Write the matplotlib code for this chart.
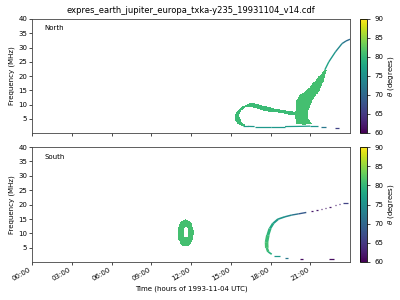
import numpy as np
import matplotlib
matplotlib.use('Agg')
import matplotlib.pyplot as plt
import matplotlib.dates as mdates
from matplotlib.path import Path
from matplotlib.collections import LineCollection
from matplotlib.colors import Normalize
import datetime as dt

# ---- data: hours of 1993-11-04, frequency in MHz, theta in degrees ----
# North: filled regions (polygon outlines, hour / MHz) and their theta
north_loop_h = [15.9, 15.55, 15.35, 15.3, 15.45, 15.75, 16.1, 16.5, 17.0, 17.5, 18.2, 19.0, 19.6, 19.95,
                19.95, 19.5, 19.0, 18.2, 17.5, 17.0, 16.5, 16.1, 15.8, 15.65, 15.7, 15.85, 16.1]
north_loop_f = [2.4, 3.2, 4.5, 6.0, 7.5, 9.0, 10.0, 10.6, 10.4, 9.6, 8.7, 8.2, 7.8, 7.6,
                6.2, 6.4, 6.9, 7.4, 8.0, 8.6, 9.1, 9.0, 8.0, 6.5, 5.0, 3.8, 2.8]
north_loop_theta = 80.5

north_fan_h = [19.9, 19.85, 19.9, 19.97, 20.2, 20.7, 21.1, 21.6, 22.0, 22.1,
               22.25, 22.1, 21.7, 21.15, 20.85, 20.85, 21.0, 21.25, 20.5, 19.5]
north_fan_f = [3.0, 6.5, 9.5, 11.5, 13.5, 15.0, 17.0, 19.7, 21.8, 22.3,
               22.0, 19.7, 15.0, 11.5, 8.0, 5.0, 4.0, 3.1, 2.9, 3.2]
north_fan_theta = 81.0

# North: thin tracks (hour, MHz, theta at each point)
north_top_h = [22.1, 22.4, 22.9, 23.4, 23.7, 24.0]
north_top_f = [22.2, 25.0, 28.5, 31.4, 32.3, 32.9]
north_top_theta = [78, 77, 75, 73, 71, 70]

north_base_h = [15.9, 16.3, 16.8, 18.0, 19.1, 20.0, 21.0, 21.6]
north_base_f = [2.4, 2.4, 2.35, 2.35, 2.35, 2.4, 2.5, 2.5]
north_base_theta = [77, 76, 76, 76, 76, 77, 76, 75]

north_dash_h0 = [21.8, 22.87]
north_dash_h1 = [22.2, 23.2]
north_dash_f = [2.05, 1.75]
north_dash_theta = [72, 66]

# South: oval ring
south_oval_h = [11.6, 11.9, 12.1, 12.2, 12.15, 11.95, 11.6, 11.25, 11.05, 11.0, 11.1, 11.3]
south_oval_f = [15.1, 14.5, 13.0, 10.5, 8.0, 6.2, 5.4, 6.2, 8.0, 10.5, 13.0, 14.5]
south_hole_h = [11.62, 11.78, 11.8, 11.75, 11.62, 11.48, 11.43, 11.46]
south_hole_f = [12.5, 11.5, 10.2, 9.0, 8.5, 9.0, 10.2, 11.5]
south_oval_theta = 81.0

# South: C-shaped track
south_arc_h = [18.09, 17.83, 17.72, 17.7, 17.8, 17.96, 18.2, 18.58, 19.09, 19.6, 20.1, 20.7]
south_arc_f = [2.8, 3.6, 5.0, 7.0, 9.4, 11.7, 13.5, 15.0, 15.8, 16.4, 16.8, 17.3]
south_arc_theta = [78, 80, 81, 81, 80, 79, 77, 76, 75, 73, 70, 67]
south_arc_width = [1.2, 1.8, 2.6, 2.6, 2.2, 1.8, 1.5, 1.2, 1.1, 1.0, 1.0, 1.0]

south_dash_h0 = [18.3, 19.1, 20.2, 22.4, 21.05, 21.45, 21.78, 22.08, 22.45, 22.84, 23.14, 23.49]
south_dash_h1 = [18.7, 19.35, 20.45, 22.8, 21.2, 21.58, 21.9, 22.2, 22.57, 22.96, 23.25, 23.83]
south_dash_f = [2.2, 1.65, 1.3, 1.05, 17.75, 18.1, 18.45, 18.7, 19.25, 19.85, 20.2, 20.45]
south_dash_theta = [76, 72, 61, 61, 62, 62, 62, 62, 62, 62, 63, 66]

day = dt.datetime(1993, 11, 4)
norm = Normalize(60, 90)
cmap = plt.get_cmap('viridis')

# time / frequency grid for the dynamic spectrum
t_edges = np.arange(0, 24.001, 0.05)
f_edges = np.arange(0.1, 40.1, 0.3)
tc = 0.5 * (t_edges[1:] + t_edges[:-1])
fc = 0.5 * (f_edges[1:] + f_edges[:-1])
TT, FF = np.meshgrid(tc, fc)
pts = np.column_stack([TT.ravel(), FF.ravel()])


def poly_mask(h, f):
    return Path(np.column_stack([h, f])).contains_points(pts).reshape(TT.shape)


def to_num(h):
    return mdates.date2num([day + dt.timedelta(hours=float(x)) for x in np.atleast_1d(h)])


def track(ax, h, f, theta, lw=1.0):
    xy = np.column_stack([to_num(h), f])
    segs = np.stack([xy[:-1], xy[1:]], axis=1)
    th = 0.5 * (np.array(theta[:-1]) + np.array(theta[1:]))
    lc = LineCollection(segs, cmap=cmap, norm=norm, linewidths=lw, capstyle='butt')
    lc.set_array(th)
    ax.add_collection(lc)


def dashes(ax, h0, h1, f, theta, lw=1.0):
    segs = [[(to_num(a)[0], y), (to_num(b)[0], y)] for a, b, y in zip(h0, h1, f)]
    lc = LineCollection(segs, cmap=cmap, norm=norm, linewidths=lw, capstyle='butt')
    lc.set_array(np.array(theta, dtype=float))
    ax.add_collection(lc)


# north spectrum
north = np.full(TT.shape, np.nan)
north[poly_mask(north_loop_h, north_loop_f)] = north_loop_theta
north[poly_mask(north_fan_h, north_fan_f)] = north_fan_theta

# south spectrum
south = np.full(TT.shape, np.nan)
ring = poly_mask(south_oval_h, south_oval_f) & ~poly_mask(south_hole_h, south_hole_f)
south[ring] = south_oval_theta

fig = plt.figure(figsize=(4, 3), dpi=100)
ax1 = fig.add_axes([0.08, 0.5567, 0.795, 0.38])
ax2 = fig.add_axes([0.08, 0.1267, 0.795, 0.383])
cax1 = fig.add_axes([0.9, 0.5567, 0.0175, 0.38])
cax2 = fig.add_axes([0.9, 0.1267, 0.0175, 0.383])

xe = to_num(t_edges)
for ax, z, cax, name in [(ax1, north, cax1, 'North'), (ax2, south, cax2, 'South')]:
    m = ax.pcolormesh(xe, f_edges, np.ma.masked_invalid(z), cmap=cmap, norm=norm, shading='flat')
    cb = fig.colorbar(m, cax=cax)
    cb.set_ticks([60, 65, 70, 75, 80, 85, 90])
    cb.ax.tick_params(labelsize=5, length=2, width=0.5)
    cb.set_label(r'$\theta$ (degrees)', fontsize=5, labelpad=2)
    cb.outline.set_linewidth(0.6)
    ax.set_ylim(0.1, 40)
    ax.set_xlim(to_num(0)[0], to_num(23.999)[0])
    ax.set_yticks([5, 10, 15, 20, 25, 30, 35, 40])
    ax.set_ylabel('Frequency (MHz)', fontsize=5, labelpad=2)
    ax.tick_params(labelsize=5, length=2, width=0.5, pad=1.5)
    ax.xaxis.set_major_locator(mdates.HourLocator(byhour=range(0, 24, 3)))
    ax.xaxis.set_major_formatter(mdates.DateFormatter('%H:%M'))
    ax.text(0.04, 0.9, name, transform=ax.transAxes, fontsize=5)
    for s in ax.spines.values():
        s.set_linewidth(0.6)
        s.set_color('#444444')

track(ax1, north_top_h, north_top_f, north_top_theta, lw=1.0)
track(ax1, north_base_h, north_base_f, north_base_theta, lw=0.9)
dashes(ax1, north_dash_h0, north_dash_h1, north_dash_f, north_dash_theta, lw=0.9)

for a, b, c, w in zip(zip(south_arc_h[:-1], south_arc_h[1:]), zip(south_arc_f[:-1], south_arc_f[1:]),
                      zip(south_arc_theta[:-1], south_arc_theta[1:]), south_arc_width[:-1]):
    track(ax2, list(a), list(b), list(c), lw=w)
dashes(ax2, south_dash_h0, south_dash_h1, south_dash_f, south_dash_theta, lw=0.9)

ax1.set_xticklabels([])
for lab in ax2.get_xticklabels():
    lab.set_rotation(30)
    lab.set_ha('right')
ax2.set_xlabel('Time (hours of 1993-11-04 UTC)', fontsize=5, labelpad=2)
ax1.set_title('expres_earth_jupiter_europa_txka-y235_19931104_v14.cdf', fontsize=6, pad=4)

fig.savefig('out.png', dpi=100)
